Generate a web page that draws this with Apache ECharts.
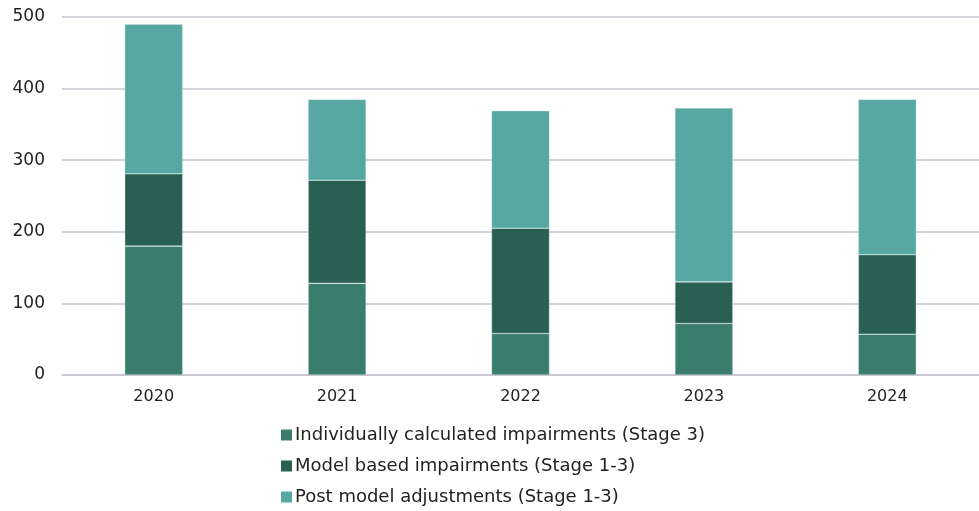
<!DOCTYPE html>
<html><head><meta charset="utf-8">
<script src="https://cdn.jsdelivr.net/npm/echarts@6/dist/echarts.min.js"></script>
<style>html,body{margin:0;padding:0;background:#fff}#c{width:979px;height:511px}</style>
</head><body><div id="c"></div>
<script>
var categories = ['2020','2021','2022','2023','2024'];
var stage3 = [180, 128, 58, 72, 57];
var modelBased = [101, 144, 147, 58, 111];
var postModel = [209, 113, 164, 243, 217];
var seriesNames = ['Individually calculated impairments (Stage 3)','Model based impairments (Stage 1-3)','Post model adjustments (Stage 1-3)'];
var colors = ['#3a7d6c','#2a5f53','#57a8a2'];
var font = 'DejaVu Sans';
var chart = echarts.init(document.getElementById('c'));
function mk(i, data){
  return {name: seriesNames[i], type:'bar', stack:'a', data:data, barWidth:58,
    itemStyle:{color:colors[i], borderColor:'rgba(200,228,224,0.7)', borderWidth:0.6}};
}
chart.setOption({
  animation:false,
  color: colors,
  grid:{left:62, right:0, top:17, bottom:136},
  xAxis:{type:'category', data:categories,
    axisLine:{show:true, lineStyle:{color:'#c4c4cc', width:1.5}}, axisTick:{show:false},
    axisLabel:{color:'#222', fontSize:16, fontFamily:font, margin:14}},
  yAxis:{type:'value', min:0, max:500, interval:100,
    axisLine:{show:false}, axisTick:{show:false},
    splitLine:{lineStyle:{color:'#c4c4cc', width:1.5}},
    axisLabel:{color:'#222', fontSize:17, fontFamily:font, margin:17}},
  legend:{orient:'vertical', left:281, top:425, height:86, padding:0, itemGap:11, itemWidth:11, itemHeight:11,
    icon:'rect', itemStyle:{borderWidth:0},
    textStyle:{color:'#222', fontSize:18, fontFamily:font, padding:[0,0,0,-2], lineHeight:20},
    data: seriesNames},
  series:[mk(0,stage3), mk(1,modelBased), mk(2,postModel)]
});
</script></body></html>
